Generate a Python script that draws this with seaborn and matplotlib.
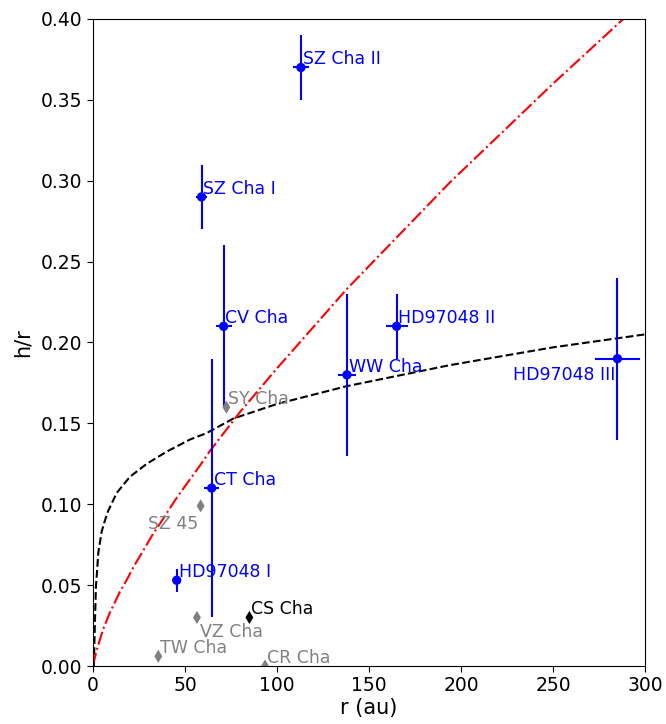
import numpy as np
import pandas as pd
import matplotlib
matplotlib.use("Agg")
import matplotlib.pyplot as plt
import seaborn as sns

# Resolved disks (blue, with error bars)
blue_names = ["SZ Cha I", "SZ Cha II", "CV Cha", "CT Cha", "HD97048 I",
              "WW Cha", "HD97048 II", "HD97048 III"]
blue_r = [59, 113, 71, 64.5, 45.5, 138, 165, 285]
blue_h = [0.29, 0.37, 0.21, 0.11, 0.053, 0.18, 0.21, 0.19]
blue_rerr = [2.8, 4.5, 4.3, 4.0, 0.0, 5.0, 6.0, 12.0]
blue_herr = [0.02, 0.02, 0.05, 0.08, 0.007, 0.05, 0.02, 0.05]

# Other disks (grey diamonds)
grey_names = ["SY Cha", "SZ 45", "VZ Cha", "TW Cha", "CR Cha"]
grey_r = [72.5, 58.5, 56.5, 35.5, 93.5]
grey_h = [0.16, 0.099, 0.03, 0.006, 0.0]

# CS Cha (black diamond)
cs_name = "CS Cha"
cs_r = [85]
cs_h = [0.03]

# Model curves
dash_r = [0.5, 0.8, 1.09, 1.6, 2.0, 2.9, 4.7, 6.5, 8.3, 12.9, 20.1, 29.2, 40.0,
          52.7, 61.8, 76.3, 100, 137.9, 194, 250, 300]
dash_h = [0.0, 0.015, 0.028, 0.049, 0.055, 0.070, 0.083, 0.090, 0.096, 0.107,
          0.117, 0.125, 0.1325, 0.140, 0.144, 0.153, 0.162, 0.173, 0.186, 0.197, 0.205]
dd_r = [0.0, 0.5, 1.0, 2.0, 2.9, 5.6, 9.2, 14.7, 19.2, 21.9, 29.2, 32.8, 36.4, 45.5,
        58.2, 63.6, 79.9, 100, 137.9, 194, 250, 288.2, 300]
dd_h = [0.0, 0.003, 0.005, 0.010, 0.013, 0.023, 0.033, 0.046, 0.055, 0.061, 0.075,
        0.082, 0.088, 0.104, 0.124, 0.133, 0.157, 0.184, 0.233, 0.299, 0.360,
        0.400, 0.412]

sns.set_style("ticks", {"axes.edgecolor": "black", "text.color": "black",
                        "xtick.color": "black", "ytick.color": "black",
                        "axes.labelcolor": "black"})
plt.rcParams["font.family"] = ["DejaVu Sans"]

fig = plt.figure(figsize=(6.66, 7.24), dpi=100)
ax = fig.add_axes([0.1396, 0.0801, 0.8289, 0.8937])

sns.lineplot(x=dash_r, y=dash_h, color="k", linestyle="--", lw=1.5, ax=ax, sort=False)
sns.lineplot(x=dd_r, y=dd_h, color="r", linestyle="-.", lw=1.5, ax=ax, sort=False)

ax.errorbar(blue_r, blue_h, xerr=blue_rerr, yerr=blue_herr, fmt="none",
            ecolor="b", elinewidth=1.5, capsize=0)
sns.scatterplot(x=blue_r, y=blue_h, color="b", s=45, edgecolor="none", ax=ax, zorder=3)
sns.scatterplot(x=grey_r, y=grey_h, color="gray", marker="d", s=45,
                edgecolor="none", ax=ax, zorder=3)
sns.scatterplot(x=cs_r, y=cs_h, color="k", marker="d", s=45,
                edgecolor="none", ax=ax, zorder=3)

fs = 12.5
for n, r, h in zip(blue_names, blue_r, blue_h):
    if n == "HD97048 III":
        ax.text(r - 1, h - 0.013, n, color="b", fontsize=fs, ha="right")
    else:
        ax.text(r + 1, h + 0.002, n, color="b", fontsize=fs)

for n, r, h in zip(grey_names, grey_r, grey_h):
    if n == "SZ 45":
        ax.text(r - 1.5, h - 0.014, n, color="gray", fontsize=fs, ha="right")
    elif n == "VZ Cha":
        ax.text(r + 1.5, h - 0.012, n, color="gray", fontsize=fs)
    else:
        ax.text(r + 1, h + 0.002, n, color="gray", fontsize=fs)

ax.text(cs_r[0] + 1, cs_h[0] + 0.002, cs_name, color="k", fontsize=fs)

ax.set_xlim(0, 300)
ax.set_ylim(0, 0.4)
ax.set_xticks([0, 50, 100, 150, 200, 250, 300])
ax.set_yticks(np.arange(0, 0.41, 0.05))
ax.yaxis.set_major_formatter(matplotlib.ticker.FormatStrFormatter("%.2f"))
ax.tick_params(labelsize=13.5, direction="out", length=4)
ax.set_xlabel("r (au)", fontsize=15, labelpad=2)
ax.set_ylabel("h/r", fontsize=15, labelpad=6)

fig.savefig("out.png", dpi=100)
